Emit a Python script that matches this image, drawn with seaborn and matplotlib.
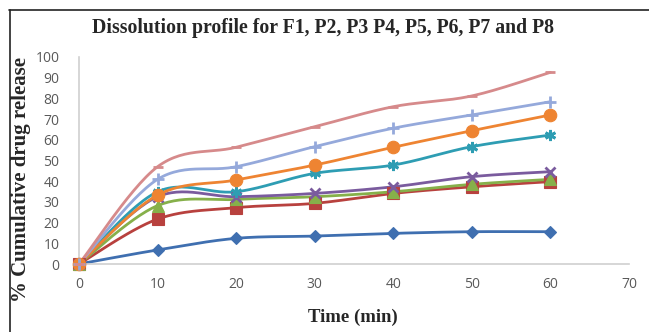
import numpy as np
import matplotlib
matplotlib.use("Agg")
import matplotlib.pyplot as plt
import seaborn as sns
from matplotlib.lines import Line2D

time_min = [0, 10, 20, 30, 40, 50, 60]
series_names = ["F1", "P2", "P3", "P4", "P5", "P6", "P7", "P8"]
F1 = [0, 6.8, 12.4, 13.5, 14.8, 15.6, 15.6]
P2 = [0, 21.7, 27.2, 29.3, 34.1, 37.3, 39.8]
P3 = [0, 28.2, 31.2, 32.5, 34.9, 38.5, 40.9]
P4 = [0, 32.5, 32.5, 34.1, 37.3, 42.2, 44.6]
P5 = [0, 34.9, 34.9, 43.8, 47.8, 56.7, 62.3]
P6 = [0, 33.3, 40.6, 47.8, 56.4, 64.4, 72.0]
P7 = [0, 40.9, 47.0, 56.7, 65.6, 72.0, 78.4]
P8 = [0, 47.0, 56.4, 66.3, 76.0, 81.2, 92.6]
x_ticks = [0, 10, 20, 30, 40, 50, 60, 70]
y_ticks = [0, 10, 20, 30, 40, 50, 60, 70, 80, 90, 100]

values = [F1, P2, P3, P4, P5, P6, P7, P8]
colors = ["#3F6FB0", "#B8413E", "#86B04A", "#7A5B9E", "#2E9DB3", "#EE8432", "#95A9DB", "#D68A8B"]
markers = ["D", "s", "^", "x", (6, 2, 0), "o", "+", "_"]
msizes = [6.5, 8.5, 8.5, 7, 8, 9, 9, 7]

sns.set_theme(style="white")
plt.rcParams["font.family"] = ["DejaVu Sans"]

fig = plt.figure(figsize=(6.49, 3.32), dpi=100)
ax = fig.add_axes([79/649, 1-264/332, 550/649, 207/332])


def smooth(xs, ys, n=30):
    # Catmull-Rom (Bezier-style) smoothing through the data points for rendering
    xs = np.asarray(xs, float); ys = np.asarray(ys, float)
    px = np.concatenate([[xs[0]], xs, [xs[-1]]])
    py = np.concatenate([[ys[0]], ys, [ys[-1]]])
    ox, oy = [], []
    for i in range(1, len(px) - 2):
        p0 = np.array([px[i-1], py[i-1]]); p1 = np.array([px[i], py[i]])
        p2 = np.array([px[i+1], py[i+1]]); p3 = np.array([px[i+2], py[i+2]])
        c1 = p1 + (p2 - p0) / 6.0
        c2 = p2 - (p3 - p1) / 6.0
        t = np.linspace(0, 1, n)[:, None]
        pts = (1-t)**3*p1 + 3*(1-t)**2*t*c1 + 3*(1-t)*t**2*c2 + t**3*p2
        ox.extend(pts[:, 0]); oy.extend(pts[:, 1])
    return np.array(ox), np.array(oy)

for name, vals, c, m, ms in zip(series_names, values, colors, markers, msizes):
    sx, sy = smooth(time_min, vals)
    sns.lineplot(x=sx, y=sy, ax=ax, color=c, linewidth=2.0, sort=False,
                 estimator=None, clip_on=False)
    mew = 2.0 if m in ("x", "+", "_") or isinstance(m, tuple) else 0.8
    ax.plot(time_min, vals, linestyle="none", marker=m, markersize=ms, color=c,
            markeredgecolor=c, markeredgewidth=mew, clip_on=False, zorder=3)

ax.set_xlim(0, 70)
ax.set_ylim(0, 100)
ax.set_xticks(x_ticks)
ax.set_yticks(y_ticks)
ax.tick_params(axis="both", length=0, labelsize=10, labelcolor="#595959")
ax.tick_params(axis="y", pad=14)
ax.tick_params(axis="x", pad=9)
for lab in ax.get_xticklabels() + ax.get_yticklabels():
    lab.set_fontfamily("Open Sans")
for s in ["top", "right"]:
    ax.spines[s].set_visible(False)
for s in ["left", "bottom"]:
    ax.spines[s].set_color("#D0D0D0")
    ax.spines[s].set_linewidth(1.2)
ax.grid(False)

fig.text(323.5/649, 1-28/332, "Dissolution profile for F1, P2, P3 P4, P5, P6, P7 and P8",
         ha="center", va="center", fontsize=14.2, fontweight="bold",
         family="Liberation Serif")
fig.text(353/649, 1-317/332, "Time (min)", ha="center", va="center",
         fontsize=13.5, fontweight="bold", family="Liberation Serif")
fig.text(21/649, 1-180/332, "% Cumulative drug release", ha="center", va="center",
         rotation=90, fontsize=15, fontweight="bold", family="Liberation Serif")

# outer border (top and left)
fig.add_artist(Line2D([9/649, 1], [1-9.5/332, 1-9.5/332], color="#222222", linewidth=1.2,
                      transform=fig.transFigure))
fig.add_artist(Line2D([9.5/649, 9.5/649], [0, 1-9.5/332], color="#222222", linewidth=1.2,
                      transform=fig.transFigure))

fig.savefig("out.png", dpi=100)
